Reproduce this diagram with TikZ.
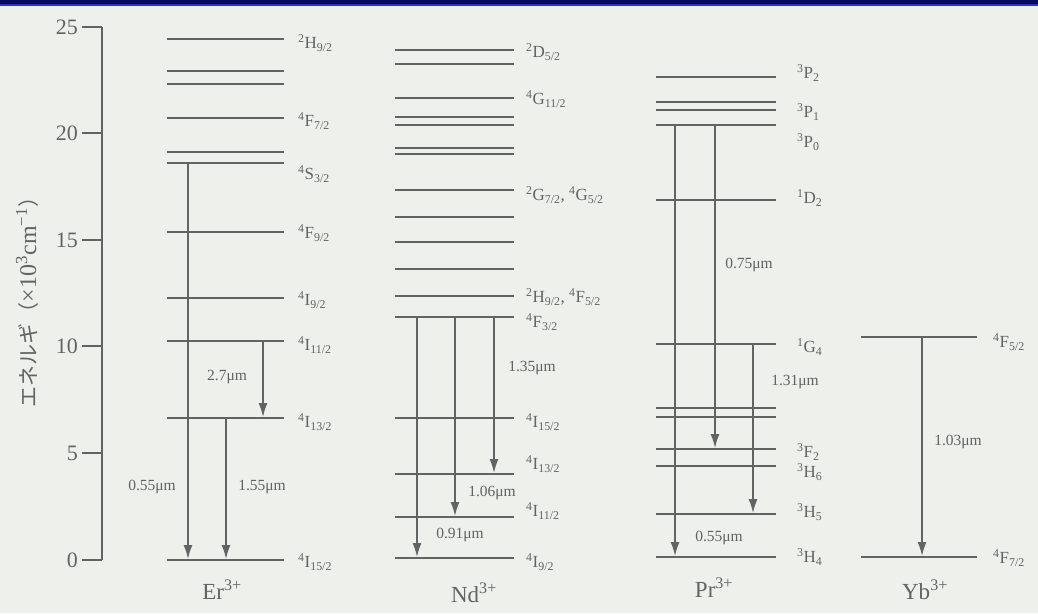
\documentclass[tikz,border=0pt]{standalone}
\usepackage{fontspec}
\setmainfont{Liberation Serif}
\newfontfamily\jpfont{Noto Sans CJK JP}
\usetikzlibrary{arrows.meta,calc}
\definecolor{bg}{HTML}{EEF0EC}
\definecolor{ink}{HTML}{636363}
\definecolor{navy}{HTML}{0B0B5E}
\definecolor{bandblue}{HTML}{2A35C8}
\newcommand\spec[3]{\textsuperscript{#1}#2\textsubscript{#3}}
\begin{document}
\begin{tikzpicture}[x=1pt,y=-1pt,
 level/.style={draw=ink, line width=1.6pt},
 trans/.style={draw=ink, line width=1.5pt, -{Latex[length=14pt,width=9pt]}, shorten >=1pt},
 lab/.style={anchor=west, inner sep=0pt, text=ink, font=\fontsize{17}{17}\selectfont},
 wl/.style={inner sep=0pt, text=ink, font=\fontsize{15.5}{15.5}\selectfont},
 ion/.style={inner sep=0pt, text=ink, font=\fontsize{23}{23}\selectfont},
 ticklab/.style={inner sep=0pt, anchor=east, text=ink, font=\fontsize{22}{22}\selectfont}]
\useasboundingbox (0,0) rectangle (1038,613);
\fill[bg] (0,0) rectangle (1038,613);
\fill[navy] (0,0) rectangle (1038,4);
\fill[bandblue] (0,4) rectangle (1038,6);

% axis
\coordinate (axtop) at (102,27);
\coordinate (axbot) at (102,560);
\draw[level] (axtop) -- (axbot);
\foreach \v/\yy in {25/27,20/133,15/240,10/346,5/453,0/560}{
  \draw[level] (82,\yy) -- (102,\yy);
  \node[ticklab] (t\v) at (78,\yy) {\v};
}
\node[rotate=90, inner sep=0pt, text=ink] (ylab) at (27,297)
  {{\jpfont\fontsize{21}{21}\selectfont エネルギ（}{\fontsize{24}{24}\selectfont ×10\textsuperscript{3}cm\textsuperscript{−1}}{\jpfont\fontsize{21}{21}\selectfont ）}};

% ---------------- Er ----------------
\foreach \yy/\nm in {39/erA,71/erB,84/erC,118/erD,152/erE,163/erF,232/erG,298/erH,341/erI,418/erJ,560/erK}{
  \draw[level] (167,\yy) coordinate (\nm) -- (284,\yy);
}
\node[lab] (lerA) at (298,43) {\spec{2}{H}{9/2}};
\node[lab] (lerD) at (298,121) {\spec{4}{F}{7/2}};
\node[lab] (lerF) at (298,174) {\spec{4}{S}{3/2}};
\node[lab] (lerG) at (298,233) {\spec{4}{F}{9/2}};
\node[lab] (lerH) at (298,300) {\spec{4}{I}{9/2}};
\node[lab] (lerI) at (298,345) {\spec{4}{I}{11/2}};
\node[lab] (lerJ) at (298,422) {\spec{4}{I}{13/2}};
\node[lab] (lerK) at (298,562) {\spec{4}{I}{15/2}};
\draw[trans] ($(erF)+(21,0)$) -- ($(erK)+(21,0)$);
\draw[trans] ($(erI)+(96,0)$) -- ($(erJ)+(96,0)$);
\draw[trans] ($(erJ)+(59,0)$) -- ($(erK)+(59,0)$);
\node[wl] (wEr1) at (152,487) {0.55μm};
\node[wl] (wEr2) at (227,377) {2.7μm};
\node[wl] (wEr3) at (262,487) {1.55μm};
\node[ion] (Er) at (222,590) {Er\textsuperscript{3+}};

% ---------------- Nd ----------------
\foreach \yy/\nm in {50/ndA,64/ndB,98/ndC,117/ndD,125/ndE,148/ndF,154/ndG,190/ndH,217/ndI,242/ndJ,269/ndK,296/ndL,317/ndM,418/ndN,474/ndO,517/ndP,558/ndQ}{
  \draw[level] (395,\yy) coordinate (\nm) -- (514,\yy);
}
\node[lab] (lndA) at (526,52) {\spec{2}{D}{5/2}};
\node[lab] (lndC) at (526,99) {\spec{4}{G}{11/2}};
\node[lab] (lndH) at (526,195) {\spec{2}{G}{7/2}, \spec{4}{G}{5/2}};
\node[lab] (lndL) at (526,297) {\spec{2}{H}{9/2}, \spec{4}{F}{5/2}};
\node[lab] (lndM) at (526,322) {\spec{4}{F}{3/2}};
\node[lab] (lndN) at (526,422) {\spec{4}{I}{15/2}};
\node[lab] (lndO) at (526,464) {\spec{4}{I}{13/2}};
\node[lab] (lndP) at (526,511) {\spec{4}{I}{11/2}};
\node[lab] (lndQ) at (526,562) {\spec{4}{I}{9/2}};
\draw[trans] ($(ndM)+(22,0)$) -- ($(ndQ)+(22,0)$);
\draw[trans] ($(ndM)+(60,0)$) -- ($(ndP)+(60,0)$);
\draw[trans] ($(ndM)+(99,0)$) -- ($(ndO)+(99,0)$);
\node[wl] (wNd1) at (460,535) {0.91μm};
\node[wl] (wNd2) at (492,493) {1.06μm};
\node[wl] (wNd3) at (532,368) {1.35μm};
\node[ion] (Nd) at (474,593) {Nd\textsuperscript{3+}};

% ---------------- Pr ----------------
\foreach \yy/\nm in {77/prA,102/prB,110/prC,125/prD,200/prE,344/prF,408/prG,417/prH,449/prI,466/prJ,514/prK,557/prL}{
  \draw[level] (656,\yy) coordinate (\nm) -- (776,\yy);
}
\node[lab] (lprA) at (797,73) {\spec{3}{P}{2}};
\node[lab] (lprC) at (797,112) {\spec{3}{P}{1}};
\node[lab] (lprD) at (797,142) {\spec{3}{P}{0}};
\node[lab] (lprE) at (797,198) {\spec{1}{D}{2}};
\node[lab] (lprF) at (797,347) {\spec{1}{G}{4}};
\node[lab] (lprI) at (797,452) {\spec{3}{F}{2}};
\node[lab] (lprJ) at (797,472) {\spec{3}{H}{6}};
\node[lab] (lprK) at (797,512) {\spec{3}{H}{5}};
\node[lab] (lprL) at (797,557) {\spec{3}{H}{4}};
\draw[trans] ($(prD)+(19,0)$) -- ($(prL)+(19,0)$);
\draw[trans] ($(prD)+(59,0)$) -- ($(prI)+(59,0)$);
\draw[trans] ($(prF)+(97,0)$) -- ($(prK)+(97,0)$);
\node[wl] (wPr1) at (719,538) {0.55μm};
\node[wl] (wPr2) at (749,265) {0.75μm};
\node[wl] (wPr3) at (795,382) {1.31μm};
\node[ion] (Pr) at (714,588) {Pr\textsuperscript{3+}};

% ---------------- Yb ----------------
\draw[level] (861,337) coordinate (ybA) -- (977,337);
\draw[level] (861,557) coordinate (ybB) -- (977,557);
\node[lab] (lybA) at (993,342) {\spec{4}{F}{5/2}};
\node[lab] (lybB) at (993,558) {\spec{4}{F}{7/2}};
\draw[trans] ($(ybA)+(61,0)$) -- ($(ybB)+(61,0)$);
\node[wl] (wYb) at (958,442) {1.03μm};
\node[ion] (Yb) at (925,590) {Yb\textsuperscript{3+}};
\end{tikzpicture}
\end{document}
